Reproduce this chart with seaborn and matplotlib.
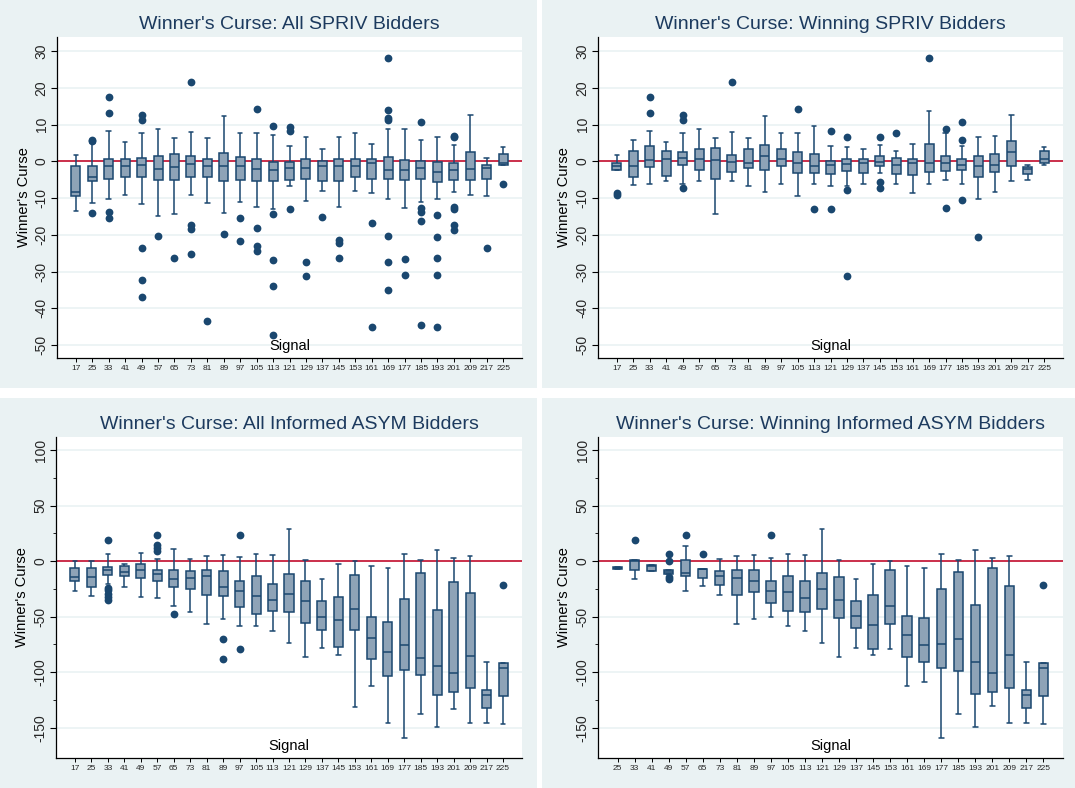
import numpy as np
import pandas as pd
import matplotlib
matplotlib.use("Agg")
import matplotlib.pyplot as plt
from matplotlib.patches import Rectangle
import seaborn as sns

# signals on the x axis
signals_all = [17, 25, 33, 41, 49, 57, 65, 73, 81, 89, 97, 105, 113, 121, 129,
               137, 145, 153, 161, 169, 177, 185, 193, 201, 209, 217, 225]
signals_win_asym = [25, 33, 41, 49, 57, 65, 73, 81, 89, 97, 105, 113, 121, 129,
                    137, 145, 153, 161, 169, 177, 185, 193, 201, 209, 217, 225]

# panel 1: all SPRIV bidders (lower whisker, q1, median, q3, upper whisker)
p1_lo = [-13.5, -11.3, -10.3, -9.2, -11.5, -15.0, -14.4, -9.3, -11.3, -14.2, -11.1, -12.4, -13.0, -6.8,
         -10.8, -8.2, -12.4, -8.2, -8.6, -10.2, -12.8, -11.0, -10.3, -8.4, -9.1, -9.5, -1.1]
p1_q1 = [-9.5, -5.3, -4.9, -4.4, -4.4, -5.2, -5.2, -4.4, -4.4, -5.3, -5.0, -5.4, -5.4, -5.1,
         -4.9, -5.3, -5.3, -4.3, -4.8, -4.7, -5.2, -4.9, -5.6, -5.2, -5.0, -4.7, -1.1]
p1_med = [-8.3, -4.3, -1.4, -1.2, -1.0, -2.1, -1.6, -0.7, -1.3, -1.3, -1.3, -2.1, -2.3, -1.7,
          -1.8, -1.2, -1.3, -1.2, -0.5, -2.3, -2.3, -1.7, -3.0, -2.3, -2.1, -1.8, -0.4]
p1_q3 = [-1.4, -1.2, 0.6, 0.6, 0.8, 1.5, 2.0, 1.4, 0.5, 2.2, 1.1, 0.5, -0.2, -0.2,
         0.5, 0.1, 0.5, 0.5, 0.5, 1.1, 0.4, 0.1, -0.2, -0.6, 2.6, -1.0, 1.9]
p1_hi = [1.6, 5.0, 8.2, 5.2, 7.7, 8.7, 6.3, 8.0, 6.3, 12.3, 7.6, 7.7, 7.2, 4.1,
         6.6, 3.3, 6.6, 7.7, 4.6, 8.9, 8.7, 5.7, 6.6, 4.4, 12.6, 1.0, 3.9]
p1_out_sig = [25, 25, 25, 33, 33, 33, 33, 49, 49, 49, 49, 49, 57, 65, 73, 73, 73, 73, 81, 89, 97, 97,
              105, 105, 105, 105, 113, 113, 113, 113, 113, 121, 121, 121, 129, 129, 137, 145, 145, 145,
              161, 161, 169, 169, 169, 169, 169, 169, 169, 177, 177, 185, 185, 185, 185, 185,
              193, 193, 193, 193, 193, 201, 201, 201, 201, 201, 201, 217, 225]
p1_out_val = [5.9, 5.4, -14.2, 17.5, 13.0, -13.7, -15.4, 12.7, 11.3, -23.5, -32.2, -37.0, -20.4, -26.4,
              21.6, -17.2, -18.4, -25.3, -43.4, -19.7, -15.3, -21.7,
              14.2, -18.2, -23.1, -24.4, 9.6, -14.3, -26.8, -34.0, -47.3, 9.4, 8.2, -13.0, -27.5, -31.1,
              -15.2, -21.5, -22.2, -26.3, -16.8, -45.2, 28.0, 13.9, 11.9, 11.3, -20.2, -27.3, -35.1,
              -26.7, -30.8, 10.8, -12.6, -13.9, -16.2, -44.5, -14.7, -20.5, -26.3, -30.8, -45.1,
              7.0, 6.6, -12.4, -12.9, -17.2, -18.6, -23.6, -6.1]

# panel 2: winning SPRIV bidders
p2_lo = [-2.5, -6.5, -6.3, -5.4, -6.3, -5.4, -14.4, -5.4, -6.6, -8.3, -6.3, -9.5, -6.3, -6.8,
         -6.7, -6.1, -3.3, -6.3, -8.6, -6.1, -5.0, -6.3, -10.3, -8.3, -5.3, -5.2, -1.0]
p2_q1 = [-2.5, -4.3, -1.5, -4.0, -0.9, -2.4, -4.7, -2.8, -1.9, -2.4, -1.3, -3.3, -3.2, -3.4,
         -2.6, -3.2, -1.3, -3.5, -3.6, -2.9, -2.7, -2.4, -4.3, -2.8, -1.3, -3.4, -0.6]
p2_med = [-1.3, -1.4, 0.4, 0.6, 0.9, 0.5, 0.3, -0.2, -0.4, 1.4, 0.7, -0.4, -1.3, -1.0,
          -0.8, -0.5, -0.1, -1.0, -0.4, -0.5, -0.4, -1.0, -1.4, -1.1, 2.6, -2.0, 0.7]
p2_q3 = [-0.4, 2.8, 4.2, 2.9, 2.6, 3.4, 3.6, 1.8, 3.4, 4.4, 3.4, 2.4, 2.1, 0.0,
         0.6, 0.5, 1.4, 0.9, 0.6, 4.8, 1.5, 0.5, 1.4, 1.9, 5.5, -1.5, 2.9]
p2_hi = [1.6, 5.9, 8.2, 5.2, 7.7, 8.7, 6.3, 8.0, 6.3, 12.3, 7.6, 7.7, 9.6, 4.1,
         3.9, 3.3, 4.3, 2.7, 4.6, 13.8, 7.7, 4.2, 6.6, 7.0, 12.6, -1.0, 3.9]
p2_out_sig = [17, 17, 33, 33, 49, 49, 49, 73, 105, 113, 121, 121, 129, 129, 129, 145, 145, 145,
              153, 169, 177, 177, 185, 185, 185, 193]
p2_out_val = [-8.6, -9.1, 17.5, 13.0, 12.7, 11.3, -7.4, 21.6, 14.2, -13.0, 8.2, -13.0, 6.6, -7.7, -31.1,
              6.6, -5.7, -7.4, 7.7, 28.0, 8.7, -12.8, 10.8, 5.8, -10.6, -20.5]

# panel 3: all informed ASYM bidders
p3_lo = [-27.3, -31.5, -20.7, -23.7, -32.1, -33.0, -40.5, -46.2, -57.1, -52.0, -58.9, -58.6, -62.8, -73.9,
         -86.5, -78.4, -84.7, -131.2, -112.6, -146.0, -159.5, -137.8, -149.8, -133.0, -146.0, -146.0, -147.1]
p3_q1 = [-18.0, -23.1, -12.9, -13.5, -15.6, -18.0, -23.1, -25.2, -30.3, -31.2, -41.1, -48.0, -45.3, -46.2,
         -56.2, -62.5, -77.2, -61.9, -88.0, -103.6, -98.5, -103.0, -120.4, -117.7, -114.1, -132.7, -121.9]
p3_med = [-14.4, -14.4, -8.1, -9.9, -8.4, -12.0, -15.9, -15.6, -13.8, -23.4, -27.0, -31.2, -35.4, -29.4,
          -36.3, -50.5, -53.2, -43.2, -69.4, -82.0, -76.0, -87.1, -94.6, -100.6, -85.6, -120.4, -96.4]
p3_q3 = [-6.6, -6.6, -5.1, -4.5, -2.7, -8.1, -8.4, -9.3, -8.1, -9.3, -18.3, -13.8, -20.4, -11.7,
         -18.0, -36.3, -32.4, -12.9, -50.5, -55.3, -33.9, -10.8, -44.1, -18.9, -28.8, -115.9, -91.9]
p3_hi = [0.0, 0.0, 6.3, -2.7, 7.5, 1.5, 10.5, 1.8, 4.8, 5.4, 3.3, 6.3, 5.4, 29.1,
         0.9, -15.9, -2.7, 0.0, -4.8, -6.3, 6.3, 0.9, 10.2, 2.7, 4.8, -91.0, -91.9]
p3_out_sig = [33, 33, 33, 33, 33, 33, 57, 57, 57, 57, 65, 89, 89, 97, 97, 225]
p3_out_val = [19.2, -24.3, -26.4, -30.0, -32.7, -35.1, 23.7, 14.4, 11.7, 9.0, -48.0, -70.0, -88.0,
              23.7, -79.3, -21.3]

# panel 4: winning informed ASYM bidders
p4_lo = [-7.5, -16.2, -9.0, -11.4, -27.0, -22.8, -30.6, -57.1, -52.0, -50.5, -58.6, -62.8, -73.9,
         -86.5, -78.4, -84.7, -79.6, -112.6, -108.7, -159.5, -137.8, -149.8, -130.6, -146.0, -146.0, -147.1]
p4_q1 = [-7.5, -8.4, -9.0, -11.4, -13.2, -15.3, -21.6, -30.3, -28.2, -37.5, -44.7, -45.9, -43.2,
         -51.7, -60.4, -79.0, -57.1, -86.8, -91.3, -96.4, -99.4, -119.8, -117.7, -114.1, -132.7, -121.9]
p4_med = [-6.6, 0.0, -4.5, -10.2, -10.5, -7.2, -13.8, -15.3, -18.0, -26.7, -27.6, -33.0, -24.9,
          -35.4, -49.8, -58.0, -40.2, -66.4, -76.0, -74.8, -70.0, -90.7, -100.6, -84.4, -120.4, -96.4]
p4_q3 = [-5.4, 0.9, -3.9, -8.4, 1.2, -6.9, -9.3, -8.4, -8.4, -18.0, -13.2, -18.0, -10.5,
         -14.4, -36.0, -30.6, -8.4, -49.5, -51.4, -24.9, -9.9, -39.6, -6.0, -22.8, -115.9, -91.9]
p4_hi = [-5.4, 0.9, -3.9, -8.4, 13.8, -6.9, 1.5, 4.8, 5.4, 2.7, 6.3, 5.4, 29.1,
         0.9, -15.9, -2.7, 0.0, -4.8, -6.3, 6.3, 0.9, 10.2, 2.7, 4.8, -91.0, -91.9]
p4_out_sig = [33, 49, 49, 49, 49, 57, 65, 97, 225]
p4_out_val = [19.2, 6.0, 0.0, -14.4, -16.2, 23.7, 6.3, 23.7, -21.3]

BG = "#eaf2f3"
NAVY = "#1a476f"
FILL = "#8ea3b7"
RED = "#c8203e"
TITLE = "#1c3a5e"

sns.set_theme(style="white")
plt.rcParams["font.family"] = ["Liberation Sans", "DejaVu Sans"]
plt.rcParams["axes.unicode_minus"] = False

W, H = 1075, 788
fig = plt.figure(figsize=(W / 100, H / 100), dpi=100, facecolor="white")


def px_rect(l, t, r, b):
    return [l / W, 1 - b / H, (r - l) / W, (b - t) / H]


def draw_panel(box, bg, title, signals, lo, q1, med, q3, hi, out_sig, out_val,
               yticks, ylim, minor=None):
    x0, y0, w0, h0 = px_rect(*bg)
    fig.add_artist(Rectangle((x0, y0), w0, h0, transform=fig.transFigure,
                             facecolor=BG, edgecolor="none", zorder=0))
    ax = fig.add_axes(px_rect(*box))
    ax.set_facecolor("white")
    labels = [str(s) for s in signals]

    rows = []
    for s, a, b, c, d, e in zip(labels, lo, q1, med, q3, hi):
        for v in (a, b, c, d, e):
            rows.append((s, v))
    df = pd.DataFrame(rows, columns=["signal", "value"])
    out = pd.DataFrame({"signal": [str(s) for s in out_sig], "value": out_val})

    for y in yticks:
        ax.axhline(y, color=BG, lw=1.2, zorder=0)
    ax.axhline(0, color=RED, lw=1.3, zorder=1)

    sns.boxplot(data=df, x="signal", y="value", order=labels, whis=(0, 100),
                showfliers=False, color=FILL, linecolor=NAVY, linewidth=1.1,
                width=0.55, saturation=1, ax=ax)
    sns.stripplot(data=out, x="signal", y="value", order=labels, jitter=False,
                  color=NAVY, size=5.6, linewidth=0, ax=ax, zorder=3)

    n = len(labels)
    ax.set_xlim(-1.15, n - 1 + 1.15)
    ax.set_ylim(*ylim)
    ax.set_yticks(yticks)
    if minor is not None:
        ax.set_yticks(minor, minor=True)
    ax.set_xlabel("")
    ax.set_ylabel("Winner's Curse", fontsize=10.5, color="black", labelpad=3)
    ax.set_title(title, fontsize=14, color=TITLE, pad=6)
    ax.text(0.5, 0.037, "Signal", transform=ax.transAxes, ha="center",
            va="center", fontsize=10.5, color="black")

    for side in ("top", "right"):
        ax.spines[side].set_visible(False)
    for side in ("left", "bottom"):
        ax.spines[side].set_color("black")
        ax.spines[side].set_linewidth(0.9)
    ax.tick_params(axis="y", which="major", direction="out", length=4, width=0.8,
                   color="black", labelsize=10, labelrotation=90, pad=2, left=True)
    ax.tick_params(axis="y", which="minor", direction="out", length=2, width=0.6,
                   color="black", left=True)
    for t in ax.get_yticklabels():
        t.set_va("center")
    ax.tick_params(axis="x", direction="out", length=3, width=0.7, color="black",
                   labelsize=6, pad=2, bottom=True)
    ax.grid(False)
    return ax


draw_panel((57, 37, 522, 358), (0, 0, 537, 388), "Winner's Curse: All SPRIV Bidders",
           signals_all, p1_lo, p1_q1, p1_med, p1_q3, p1_hi, p1_out_sig, p1_out_val,
           [-50, -40, -30, -20, -10, 0, 10, 20, 30], (-53.5, 33.8))
draw_panel((598, 37, 1063, 358), (542, 0, 1075, 388), "Winner's Curse: Winning SPRIV Bidders",
           signals_all, p2_lo, p2_q1, p2_med, p2_q3, p2_hi, p2_out_sig, p2_out_val,
           [-50, -40, -30, -20, -10, 0, 10, 20, 30], (-53.5, 33.8))
draw_panel((56, 437, 522, 758), (0, 398, 537, 788), "Winner's Curse: All Informed ASYM Bidders",
           signals_all, p3_lo, p3_q1, p3_med, p3_q3, p3_hi, p3_out_sig, p3_out_val,
           [-150, -100, -50, 0, 50, 100], (-177.3, 111.7),
           minor=[-125, -75, -25, 25, 75])
draw_panel((598, 437, 1063, 758), (542, 398, 1075, 788), "Winner's Curse: Winning Informed ASYM Bidders",
           signals_win_asym, p4_lo, p4_q1, p4_med, p4_q3, p4_hi, p4_out_sig, p4_out_val,
           [-150, -100, -50, 0, 50, 100], (-177.3, 111.7),
           minor=[-125, -75, -25, 25, 75])

fig.savefig("out.png", dpi=100, facecolor="white")
